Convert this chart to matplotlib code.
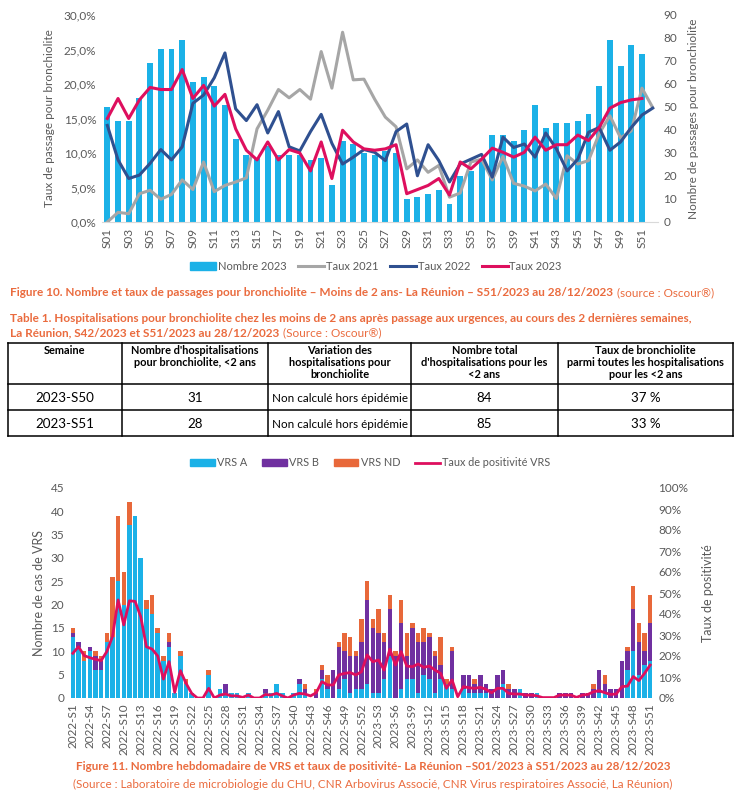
import matplotlib
matplotlib.use("Agg")
import matplotlib.pyplot as plt
import numpy as np
from matplotlib.patches import Patch
from matplotlib.lines import Line2D
from matplotlib.ticker import FuncFormatter

plt.rcParams['font.family'] = ['Lato', 'DejaVu Sans']

# ---- Figure 10 : passages pour bronchiolite ----
semaines = ["S%02d" % i for i in range(1, 53)]
nombre_2023 = [50, 44, 44, 54, 69, 75, 75, 79, 61, 63, 59, 51, 36, 29, 28, 33, 29, 29, 29, 27,
               28, 16, 35, 34, 30, 29, 31, 30, 10, 11, 12, 14, 8, 20, 22, 26, 38, 38, 35, 40,
               51, 41, 43, 43, 44, 47, 59, 79, 68, 77, 73, np.nan]
taux_2021 = [0.0, 1.4, 1.2, 4.1, 4.6, 3.3, 4.0, 6.1, 4.7, 8.7, 4.4, 5.3, 5.8, 6.4, 13.5, 16.2,
             19.2, 18.0, 19.2, 17.8, 24.7, 19.4, 27.5, 20.6, 20.7, 17.8, 15.2, 13.8, 7.7, 9.0,
             7.2, 8.2, 3.6, 4.2, 8.7, 9.1, 6.1, 9.5, 5.6, 5.2, 4.5, 5.5, 3.4, 9.6, 8.4, 8.9,
             12.8, 15.4, 12.2, 13.2, 19.4, 16.6]
taux_2022 = [14.0, 9.0, 6.3, 6.8, 8.5, 10.5, 9.0, 10.9, 17.2, 18.4, 20.9, 24.5, 16.4, 14.7,
             17.0, 12.9, 16.0, 10.9, 10.3, 13.1, 15.6, 11.4, 8.4, 9.4, 10.5, 10.1, 8.9, 13.1,
             14.2, 6.7, 11.2, 8.9, 5.8, 8.4, 9.1, 9.8, 6.5, 12.3, 10.8, 11.3, 9.4, 12.9, 10.6,
             7.4, 9.1, 13.0, 13.7, 10.4, 11.6, 13.7, 15.5, 16.5]
taux_2023 = [15.0, 17.9, 15.0, 17.7, 19.5, 19.2, 19.2, 22.1, 17.9, 19.8, 16.8, 18.5, 13.5,
             10.4, 9.0, 11.6, 9.0, 10.5, 10.0, 7.4, 11.6, 6.3, 13.3, 11.6, 10.6, 10.4, 10.6,
             11.2, 4.1, 4.7, 5.3, 6.3, 3.9, 8.7, 7.7, 9.1, 10.7, 10.1, 9.4, 10.1, 12.3, 10.4,
             11.2, 11.2, 12.6, 11.8, 13.7, 16.5, 17.3, 17.7, 17.9, np.nan]

# ---- Table 1 ----
entetes = ["Semaine", "Nombre d'hospitalisations\npour bronchiolite, <2 ans",
           "Variation des\nhospitalisations pour\nbronchiolite",
           "Nombre total\nd'hospitalisations pour les\n<2 ans",
           "Taux de bronchiolite\nparmi toutes les hospitalisations\npour les <2 ans"]
lignes_table = [["2023-S50", "31", "Non calculé hors épidémie", "84", "37 %"],
                ["2023-S51", "28", "Non calculé hors épidémie", "85", "33 %"]]

# ---- Figure 11 : VRS ----
semaines_vrs = ["2022-S%d" % i for i in range(1, 53)] + ["2023-S%d" % i for i in range(1, 52)]
vrs_a = [13, 11, 8, 10, 6, 6, 12, 13, 25, 20, 37, 39, 30, 19, 18, 14, 8, 11, 1, 9,
         3, 1, 0, 0, 5, 0, 2, 1, 1, 1, 0, 1, 0, 0, 1, 1, 3, 1, 0, 1,
         3, 1, 0, 0, 4, 2, 0, 2, 4, 1, 2, 2, 3, 1, 1, 4, 9, 0, 2, 4,
         4, 1, 5, 4, 1, 4, 3, 2, 0, 2, 1, 1, 1, 1, 0, 0, 3, 0, 0, 2,
         0, 0, 1, 0, 0, 0, 0, 0, 0, 0, 0, 0, 0, 1, 1, 0, 0, 0, 6, 10,
         5, 7, 8]
vrs_b = [1, 1, 0, 1, 3, 2, 0, 0, 0, 0, 0, 0, 0, 0, 0, 0, 0, 1, 0, 0,
         0, 0, 0, 0, 0, 0, 0, 2, 0, 0, 0, 0, 0, 0, 1, 0, 0, 0, 0, 0,
         1, 1, 0, 1, 2, 1, 6, 9, 6, 8, 7, 10, 18, 14, 13, 8, 10, 9, 14, 5,
         11, 11, 7, 9, 8, 3, 0, 8, 0, 3, 4, 2, 4, 2, 2, 5, 3, 2, 2, 0,
         1, 1, 0, 0, 0, 0, 1, 1, 1, 0, 1, 1, 2, 5, 2, 2, 2, 8, 4, 9,
         7, 3, 8]
vrs_nd = [1, 0, 2, 0, 1, 1, 2, 13, 14, 7, 5, 0, 0, 2, 4, 1, 1, 2, 0, 1,
          1, 0, 0, 0, 1, 0, 0, 0, 0, 0, 0, 0, 0, 0, 0, 0, 0, 0, 0, 0,
          0, 1, 0, 1, 1, 2, 0, 1, 4, 4, 1, 5, 4, 2, 5, 2, 3, 1, 5, 5,
          1, 2, 3, 1, 1, 6, 1, 1, 0, 0, 0, 1, 0, 0, 0, 0, 0, 1, 0, 0,
          0, 0, 0, 0, 0, 0, 0, 0, 0, 0, 0, 0, 1, 0, 2, 0, 0, 0, 1, 5,
          4, 4, 6]
taux_pos = [21.3, 24.4, 20.2, 19.2, 18.4, 17.8, 22.1, 29.2, 46.7, 34.8,
            46.3, 46.0, 38.7, 24.4, 23.3, 20.0, 9.0, 17.3, 2.7, 13.0,
            7.0, 2.2, 0, 0, 4.6, 0, 1.4, 1.9, 1.0, 1.0,
            0.3, 1.4, 0, 0, 1.7, 1.4, 2.2, 1.0, 0, 1.4,
            2.2, 1.9, 1.0, 2.5, 7.8, 6.2, 6.2, 11.0, 11.7, 12.1,
            11.0, 12.5, 20.5, 17.3, 18.1, 13.3, 23.2, 15.7, 22.1, 15.2,
            14.9, 16.2, 14.6, 15.2, 13.3, 11.7, 4.6, 8.6, 0.6, 5.4,
            4.9, 4.6, 5.1, 4.1, 2.5, 4.6, 4.6, 2.2, 1.9, 1.9,
            1.4, 1.4, 1.0, 0.2, 0.2, 0.2, 1.4, 1.4, 1.4, 0.3,
            1.4, 1.7, 3.0, 3.5, 2.5, 1.7, 1.9, 5.4, 5.7, 10.2,
            8.3, 11.7, 15.7]

# couleurs
cyan = "#1BB1E7"
gris = "#A6A6A6"
bleu = "#2F5090"
rose = "#DE0F5E"
violet = "#7030A0"
orange = "#E8683A"
titre_col = "#EA6B3E"
txt_col = "#595959"

W, H = 741, 791
fig = plt.figure(figsize=(W / 100, H / 100), dpi=100)

# calque texte en pixels
ax_t = fig.add_axes([0, 0, 1, 1])
ax_t.set_xlim(0, W)
ax_t.set_ylim(H, 0)
ax_t.axis("off")


def ax_pixels(x0, y0, x1, y1):
    return fig.add_axes([x0 / W, 1 - y1 / H, (x1 - x0) / W, (y1 - y0) / H])


def texte_suite(x, y, morceaux, size, color, centre=False):
    r = fig.canvas.get_renderer()
    objets = []
    for txt, w in morceaux:
        t = ax_t.text(x, y, txt, fontsize=size, fontweight=w, color=color, va="center", ha="left")
        bb = t.get_window_extent(renderer=r)
        x += bb.width + 4
        objets.append(t)
    if centre:
        total = x - 4 - objets[0].get_position()[0]
        dx = centre - total / 2 - objets[0].get_position()[0]
        for t in objets:
            px, py = t.get_position()
            t.set_position((px + dx, py))


# ================= Figure 10 =================
ax1 = ax_pixels(102, 15, 658, 222)
x = np.arange(len(semaines))
ax2 = ax1.twinx()
ax2.bar(x, nombre_2023, width=0.56, color=cyan, zorder=1)
ax2.set_ylim(0, 90)
ax2.set_yticks(range(0, 91, 10))
ax1.set_zorder(ax2.get_zorder() + 1)
ax1.patch.set_visible(False)
ax1.plot(x, taux_2021, color=gris, lw=2.2)
ax1.plot(x, taux_2022, color=bleu, lw=2.2)
ax1.plot(x, taux_2023, color=rose, lw=2.2)
ax1.set_ylim(0, 30)
ax1.set_yticks(range(0, 31, 5))
ax1.yaxis.set_major_formatter(FuncFormatter(lambda v, p: ("%.1f%%" % v).replace(".", ",")))
ax1.set_xlim(-0.5, len(semaines) - 0.5)
ax1.set_xticks(x[::2])
ax1.set_xticklabels(semaines[::2], rotation=90)
for a in (ax1, ax2):
    for s in a.spines.values():
        s.set_visible(False)
    a.tick_params(length=0, labelsize=8.5, colors=txt_col, pad=4)
ax1.spines["bottom"].set_visible(True)
ax1.spines["bottom"].set_color("#D9D9D9")
ax1.set_ylabel("Taux de passage pour bronchiolite", fontsize=8.5, color=txt_col, labelpad=6)
ax2.set_ylabel("Nombre de passages pour bronchiolite", fontsize=8.5, color=txt_col, labelpad=8)

poignees = [Patch(color=cyan), Line2D([], [], color=gris, lw=2.2),
            Line2D([], [], color=bleu, lw=2.2), Line2D([], [], color=rose, lw=2.2)]
fig.legend(poignees, ["Nombre 2023", "Taux 2021", "Taux 2022", "Taux 2023"],
           loc="center", bbox_to_anchor=(376 / W, 1 - 266 / H), ncol=4, frameon=False,
           fontsize=8, handlelength=2.3, handletextpad=0.15, columnspacing=1.1,
           labelcolor=txt_col)

texte_suite(10, 293, [("Figure 10. Nombre et taux de passages pour bronchiolite – Moins de 2 ans- La Réunion – S51/2023 au 28/12/2023", "bold"),
                      ("(source : Oscour®)", "normal")], 8.5, titre_col)
texte_suite(10, 318, [("Table 1. Hospitalisations pour bronchiolite chez les moins de 2 ans après passage aux urgences, au cours des 2 dernières semaines,", "bold")], 8.5, titre_col)
texte_suite(10, 333, [("La Réunion, S42/2023 et S51/2023 au 28/12/2023", "bold"),
                      ("(Source : Oscour®)", "normal")], 8.5, titre_col)

# ================= Table 1 =================
cols = [8, 122, 268, 411, 558, 733]
rows = [343, 384, 410, 436]
for cx in cols:
    ax_t.plot([cx, cx], [rows[0], rows[-1]], color="black", lw=1.1)
for ry in rows:
    ax_t.plot([cols[0], cols[-1]], [ry, ry], color="black", lw=1.1)
for i, t in enumerate(entetes):
    ax_t.text((cols[i] + cols[i + 1]) / 2, 345, t, ha="center", va="top", fontsize=7.9,
              fontweight="bold", color="black", linespacing=1.12)
for j, ligne in enumerate(lignes_table):
    for i, t in enumerate(ligne):
        ax_t.text((cols[i] + cols[i + 1]) / 2, (rows[j + 1] + rows[j + 2]) / 2 + 1, t,
                  ha="center", va="center", fontsize=9.6 if i != 2 else 8.4, color="black")

# ================= Figure 11 =================
ax3 = ax_pixels(70, 488, 653, 698)
xv = np.arange(len(semaines_vrs))
a = np.array(vrs_a)
b = np.array(vrs_b)
nd = np.array(vrs_nd)
ax3.bar(xv, a, width=0.8, color=cyan)
ax3.bar(xv, b, width=0.8, bottom=a, color=violet)
ax3.bar(xv, nd, width=0.8, bottom=a + b, color=orange)
ax3.set_ylim(0, 45)
ax3.set_yticks(range(0, 46, 5))
ax3.set_xlim(-0.5, len(semaines_vrs) - 0.5)
ax3.set_xticks(xv[::3])
ax3.set_xticklabels(semaines_vrs[::3], rotation=90)
ax4 = ax3.twinx()
ax4.plot(xv, taux_pos, color=rose, lw=2.0)
ax4.set_ylim(0, 100)
ax4.set_yticks(range(0, 101, 10))
ax4.yaxis.set_major_formatter(FuncFormatter(lambda v, p: "%d%%" % v))
for a_ in (ax3, ax4):
    for s in a_.spines.values():
        s.set_visible(False)
    a_.tick_params(length=0, labelsize=8.5, colors=txt_col, pad=4)
ax3.set_ylabel("Nombre de cas de VRS", fontsize=9, color=txt_col, labelpad=4)
ax4.set_ylabel("Taux de positivité", fontsize=9, color=txt_col, labelpad=10)

poignees2 = [Patch(color=cyan), Patch(color=violet), Patch(color=orange),
             Line2D([], [], color=rose, lw=2.0)]
fig.legend(poignees2, ["VRS A", "VRS B", "VRS ND", "Taux de positivité VRS"],
           loc="center", bbox_to_anchor=(370 / W, 1 - 463 / H), ncol=4, frameon=False,
           fontsize=7.8, handlelength=2.3, handletextpad=0.2, columnspacing=1.35,
           labelcolor=txt_col)

texte_suite(0, 766, [("Figure 11. Nombre hebdomadaire de VRS et taux de positivité- La Réunion –S01/2023 à S51/2023 au 28/12/2023", "bold")],
            8.4, titre_col, centre=373)
texte_suite(0, 784, [("(Source : Laboratoire de microbiologie du CHU, CNR Arbovirus Associé, CNR Virus respiratoires Associé, La Réunion)", "normal")],
            8.4, titre_col, centre=373)

fig.savefig("out.png", dpi=100)
